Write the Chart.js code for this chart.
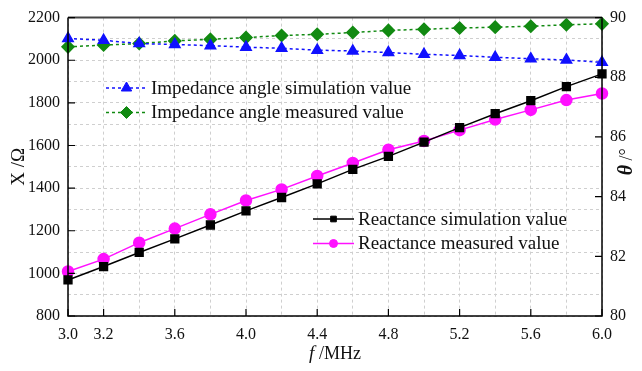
<!DOCTYPE html>
<html lang="en">
<head>
    <meta charset="UTF-8">
    <title>Reactance and impedance angle vs frequency</title>
    <script src="https://cdn.jsdelivr.net/npm/chart.js"></script>
    <style>
        html, body { margin: 0; padding: 0; background: #fff; }
        #wrap { width: 642px; height: 371px; }
    </style>
</head>
<body>
    <div id="wrap">
        <canvas id="zChart" width="642" height="371"></canvas>
    </div>
    <script>
        // frequency in MHz
        const freq = [3.0, 3.2, 3.4, 3.6, 3.8, 4.0, 4.2, 4.4, 4.6, 4.8, 5.0, 5.2, 5.4, 5.6, 5.8, 6.0];
        // reactance X / Ohm
        const reactSim = [969, 1032, 1098, 1162, 1227, 1293, 1356, 1420, 1488, 1549, 1616, 1684, 1749, 1810, 1876, 1936];
        const reactMeas = [1009, 1067, 1144, 1210, 1277, 1342, 1394, 1457, 1518, 1580, 1621, 1672, 1722, 1767, 1813, 1844];
        // impedance angle / degree
        const angleSim = [89.30, 89.24, 89.13, 89.10, 89.06, 89.01, 88.97, 88.91, 88.88, 88.83, 88.77, 88.73, 88.67, 88.62, 88.58, 88.50];
        const angleMeas = [89.02, 89.08, 89.13, 89.22, 89.27, 89.33, 89.40, 89.44, 89.50, 89.57, 89.61, 89.65, 89.68, 89.71, 89.76, 89.79];
        // labelled ticks
        const xTicks = [3.0, 3.2, 3.6, 4.0, 4.4, 4.8, 5.2, 5.6, 6.0];
        const yTicks = [800, 1000, 1200, 1400, 1600, 1800, 2000, 2200];
        const y2Ticks = [80, 82, 84, 86, 88, 90];

        const serif = '"Liberation Serif", "Times New Roman", serif';
        const pts = arr => arr.map((v, i) => ({ x: freq[i], y: v }));
        const near = (v, list) => list.some(t => Math.abs(t - v) < 1e-6);

        // frame, inward ticks, split legend and mixed-style axis titles
        const decor = {
            id: 'decor',
            afterDraw(chart) {
                const { ctx, chartArea: a, scales } = chart;
                ctx.save();
                // frame
                ctx.strokeStyle = '#000';
                ctx.lineWidth = 1.5;
                ctx.beginPath();
                ctx.moveTo(a.left, a.top); ctx.lineTo(a.left, a.bottom);
                ctx.lineTo(a.right, a.bottom); ctx.lineTo(a.right, a.top);
                ctx.stroke();
                ctx.strokeStyle = '#444';
                ctx.lineWidth = 2;
                ctx.beginPath(); ctx.moveTo(a.left, a.top); ctx.lineTo(a.right, a.top); ctx.stroke();
                // inward tick marks
                ctx.strokeStyle = '#000';
                ctx.lineWidth = 1.2;
                ctx.beginPath();
                xTicks.forEach(t => {
                    const px = scales.x.getPixelForValue(t);
                    ctx.moveTo(px, a.bottom); ctx.lineTo(px, a.bottom - 7);
                });
                yTicks.forEach(t => {
                    const py = scales.y.getPixelForValue(t);
                    ctx.moveTo(a.left, py); ctx.lineTo(a.left + 7, py);
                });
                y2Ticks.forEach(t => {
                    const py = scales.y2.getPixelForValue(t);
                    ctx.moveTo(a.right, py); ctx.lineTo(a.right - 7, py);
                });
                ctx.stroke();

                // legend in two groups
                const groups = [
                    { sets: [0, 1], x: 106, y: 88, r: 6 },
                    { sets: [2, 3], x: 313, y: 219, r: 4 }
                ];
                ctx.font = '19px ' + serif;
                ctx.textBaseline = 'middle';
                ctx.textAlign = 'left';
                groups.forEach(g => {
                    g.sets.forEach((di, k) => {
                        const ds = chart.data.datasets[di];
                        const y = g.y + k * 24.5;
                        const x0 = g.x, x1 = g.x + 41;
                        ctx.strokeStyle = ds.borderColor;
                        ctx.lineWidth = ds.borderWidth;
                        ctx.setLineDash(ds.borderDash || []);
                        ctx.beginPath(); ctx.moveTo(x0, y); ctx.lineTo(x1, y); ctx.stroke();
                        ctx.setLineDash([]);
                        ctx.fillStyle = ds.pointBackgroundColor;
                        ctx.strokeStyle = ds.pointBackgroundColor;
                        ctx.lineWidth = 1;
                        Chart.helpers.drawPoint(ctx, {
                            pointStyle: ds.pointStyle,
                            radius: g.r,
                            borderWidth: 1
                        }, (x0 + x1) / 2, y);
                        ctx.fillStyle = '#111';
                        ctx.fillText(ds.label, x1 + 4, y + 1);
                    });
                });

                // x title: f /MHz
                ctx.fillStyle = '#111';
                ctx.textBaseline = 'alphabetic';
                const fy = 359;
                ctx.font = 'italic 19px ' + serif;
                const w1 = ctx.measureText('f').width;
                ctx.font = '18px ' + serif;
                const w2 = ctx.measureText(' /MHz').width;
                const fx = (a.left + a.right) / 2 - (w1 + w2) / 2;
                ctx.font = 'italic 19px ' + serif;
                ctx.fillText('f', fx, fy);
                ctx.font = '18px ' + serif;
                ctx.fillText(' /MHz', fx + w1, fy);

                // right title: θ /°
                ctx.save();
                ctx.translate(632, (a.top + a.bottom) / 2 - 5);
                ctx.rotate(-Math.PI / 2);
                ctx.font = 'italic bold 20px ' + serif;
                const t1 = ctx.measureText('θ').width;
                ctx.font = '18px ' + serif;
                const t2 = ctx.measureText(' /°').width;
                let tx = -(t1 + t2) / 2;
                ctx.font = 'italic bold 20px ' + serif;
                ctx.fillText('θ', tx, 0);
                ctx.font = '18px ' + serif;
                ctx.fillText(' /°', tx + t1, 0);
                ctx.restore();

                ctx.restore();
            }
        };

        const ctx = document.getElementById('zChart').getContext('2d');
        new Chart(ctx, {
            type: 'line',
            data: {
                datasets: [
                    {
                        label: 'Impedance angle simulation value',
                        data: pts(angleSim),
                        yAxisID: 'y2',
                        borderColor: '#1010ff',
                        backgroundColor: '#1010ff',
                        pointBackgroundColor: '#1010ff',
                        pointBorderColor: '#1010ff',
                        borderWidth: 1.5,
                        borderDash: [3, 3],
                        pointStyle: 'triangle',
                        pointRadius: 6
                    },
                    {
                        label: 'Impedance angle measured value',
                        data: pts(angleMeas),
                        yAxisID: 'y2',
                        borderColor: '#128a12',
                        backgroundColor: '#128a12',
                        pointBackgroundColor: '#128a12',
                        pointBorderColor: '#128a12',
                        borderWidth: 1.5,
                        borderDash: [3, 3],
                        pointStyle: 'rectRot',
                        pointRadius: 6
                    },
                    {
                        label: 'Reactance simulation value',
                        data: pts(reactSim),
                        yAxisID: 'y',
                        borderColor: '#000000',
                        backgroundColor: '#000000',
                        pointBackgroundColor: '#000000',
                        pointBorderColor: '#000000',
                        borderWidth: 1.5,
                        pointStyle: 'rect',
                        pointRadius: 5.5
                    },
                    {
                        label: 'Reactance measured value',
                        data: pts(reactMeas),
                        yAxisID: 'y',
                        borderColor: '#ff10ff',
                        backgroundColor: '#ff10ff',
                        pointBackgroundColor: '#ff10ff',
                        pointBorderColor: '#ff10ff',
                        borderWidth: 1.5,
                        pointStyle: 'circle',
                        pointRadius: 5.5
                    }
                ]
            },
            options: {
                responsive: false,
                animation: false,
                clip: false,
                layout: { padding: { top: 12, left: 8, right: 0, bottom: 0 } },
                plugins: {
                    legend: { display: false },
                    tooltip: { enabled: false }
                },
                scales: {
                    x: {
                        type: 'linear',
                        min: 3,
                        max: 6,
                        ticks: {
                            stepSize: 0.2,
                            autoSkip: false,
                            maxRotation: 0,
                            padding: 9,
                            color: '#111',
                            font: { family: serif, size: 16 },
                            callback: v => near(v, xTicks) ? v.toFixed(1) : ''
                        },
                        grid: { color: '#cfcfcf', tickLength: 0, drawTicks: false },
                        border: { display: false, dash: [3, 3] },
                        afterFit: s => { s.height = 55; }
                    },
                    y: {
                        position: 'left',
                        min: 800,
                        max: 2200,
                        ticks: {
                            stepSize: 100,
                            autoSkip: false,
                            padding: 8,
                            color: '#111',
                            font: { family: serif, size: 16 },
                            callback: v => near(v, yTicks) ? v : ''
                        },
                        title: {
                            display: true,
                            text: 'X /Ω',
                            color: '#111',
                            font: { family: serif, size: 19 },
                            padding: 0
                        },
                        grid: { color: '#cfcfcf', drawTicks: false },
                        border: { display: false, dash: [3, 3] },
                        afterFit: s => { s.width = 60; }
                    },
                    y2: {
                        position: 'right',
                        min: 80,
                        max: 90,
                        ticks: {
                            stepSize: 2,
                            padding: 8,
                            color: '#111',
                            font: { family: serif, size: 16 }
                        },
                        grid: { display: false, drawTicks: false },
                        border: { display: false },
                        afterFit: s => { s.width = 40; }
                    }
                }
            },
            plugins: [decor]
        });
    </script>
</body>
</html>
